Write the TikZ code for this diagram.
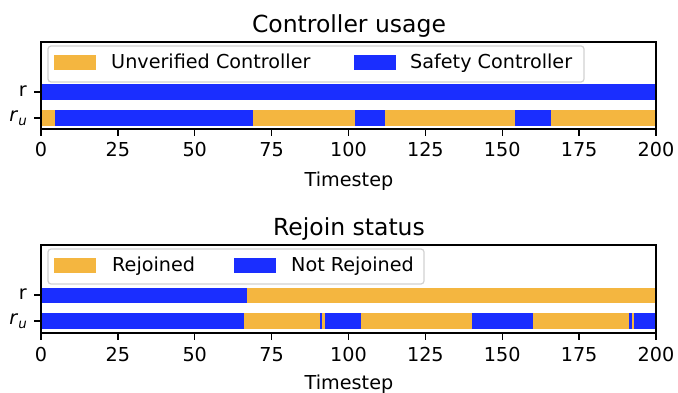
\documentclass[tikz,border=0pt]{standalone}
\usepackage{fontspec}
\setmainfont{DejaVu Sans}
\usetikzlibrary{positioning}
\definecolor{useorange}{RGB}{244,182,64}
\definecolor{useblue}{RGB}{26,46,255}
\newcommand{\tx}[1]{41+3.075*#1}

\begin{document}
\begin{tikzpicture}[x=1pt, y=-1pt,
    lbl/.style={font=\fontsize{19.2}{22}\selectfont, inner sep=0pt},
    ttl/.style={font=\fontsize{23.5}{27}\selectfont, inner sep=0pt},
    frame/.style={draw=black, line width=1.4pt},
    tick/.style={draw=black, line width=1.3pt},
    legbox/.style={draw=black!18, fill=white, rounded corners=3pt, line width=1.2pt}]
    \useasboundingbox[fill=white] (0,0) rectangle (678,393);

    % Controller usage
    \node[ttl, anchor=base] (ttlA) at (349,33) {Controller usage};
    \fill[useblue] ({\tx{0}},84) rectangle ({\tx{200}},100);
    \foreach \a/\b/\c in {0/4.5/useorange, 4.5/69/useblue, 69/102/useorange, 102/112/useblue,
                          112/154/useorange, 154/166/useblue, 166/200/useorange}
        \fill[\c] ({\tx{\a}},110) rectangle ({\tx{\b}},126);
    \draw[legbox] (48,46) rectangle (584,82);
    \fill[useorange] (54,55) rectangle (96,70);
    \node[lbl, anchor=base west] (legA1) at (111,69) {Unverified Controller};
    \fill[useblue] (354,55) rectangle (396,70);
    \node[lbl, anchor=base west] (legA2) at (410,69) {Safety Controller};
    \draw[frame] (41,42) rectangle (656,129);
    \draw[tick] (34,92) -- (41,92);
    \draw[tick] (34,118) -- (41,118);
    \node[lbl, anchor=east] (yA1) at (27,91.5) {r};
    \node[lbl, anchor=east] (yA2) at (27,118) {\textit{r}\raisebox{-0.4ex}{\fontsize{13.4}{15}\selectfont\textit{u}}};
    \foreach \t in {0,25,...,200} {
        \draw[tick] ({\tx{\t}},129) -- ++(0,7);
        \node[lbl, anchor=base] (xA\t) at ({\tx{\t}},157) {\t};
    }
    \node[lbl, anchor=base] (labA) at (349,186) {Timestep};

    % Rejoin status
    \node[ttl, anchor=base] (ttlB) at (349,236) {Rejoin status};
    \fill[useblue] ({\tx{0}},288) rectangle ({\tx{67}},303);
    \fill[useorange] ({\tx{67}},288) rectangle ({\tx{200}},303);
    \foreach \a/\b/\c in {0/66/useblue, 66/90.7/useorange, 90.7/91.5/useblue, 91.5/92.5/useorange,
                          92.5/104/useblue, 104/140/useorange, 140/160/useblue, 160/191.2/useorange,
                          191.2/192.2/useblue, 192.2/192.8/useorange, 192.8/200/useblue}
        \fill[\c] ({\tx{\a}},313) rectangle ({\tx{\b}},329);
    \draw[legbox] (48,249) rectangle (424,284);
    \fill[useorange] (54,258) rectangle (96,273);
    \node[lbl, anchor=base west] (legB1) at (112,272) {Rejoined};
    \fill[useblue] (234,258) rectangle (276,273);
    \node[lbl, anchor=base west] (legB2) at (291,272) {Not Rejoined};
    \draw[frame] (41,245) rectangle (656,333);
    \draw[tick] (34,295) -- (41,295);
    \draw[tick] (34,321) -- (41,321);
    \node[lbl, anchor=east] (yB1) at (27,294.5) {r};
    \node[lbl, anchor=east] (yB2) at (27,321) {\textit{r}\raisebox{-0.4ex}{\fontsize{13.4}{15}\selectfont\textit{u}}};
    \foreach \t in {0,25,...,200} {
        \draw[tick] ({\tx{\t}},333) -- ++(0,7);
        \node[lbl, anchor=base] (xB\t) at ({\tx{\t}},361) {\t};
    }
    \node[lbl, anchor=base] (labB) at (349,389) {Timestep};
\end{tikzpicture}
\end{document}
